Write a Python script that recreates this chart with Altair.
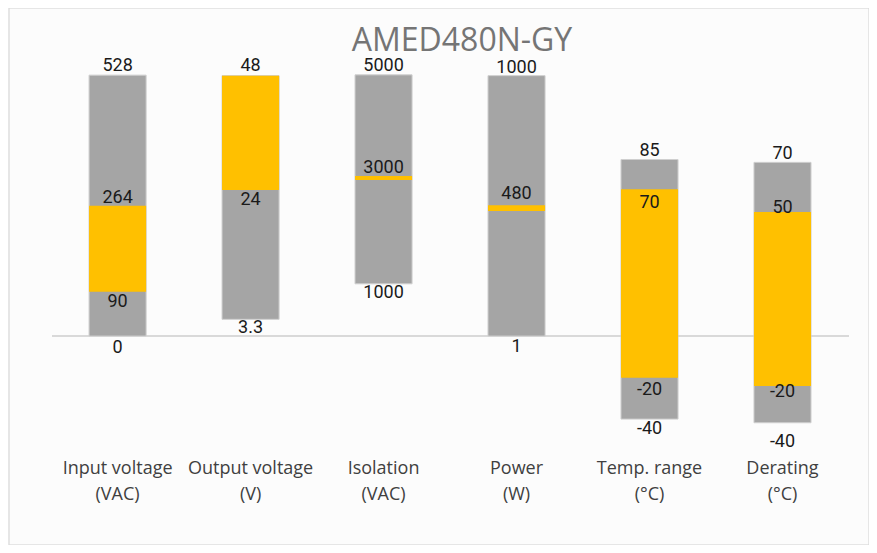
import altair as alt
import pandas as pd

# Categories (two-line axis labels)
cat_names = ["Input voltage", "Output voltage", "Isolation", "Power", "Temp. range", "Derating"]
cat_units = ["(VAC)", "(V)", "(VAC)", "(W)", "(°C)", "(°C)"]

# Plotted (normalised) extents of each bar, 100 = full-height bar
gray_lo = [0, 6.4, 20.0, 0, -31.8, -33.2]
gray_hi = [99.9, 99.7, 100.0, 99.7, 67.6, 66.5]
gold_lo = [17.0, 55.9, 59.7, 47.9, -16.0, -19.1]
gold_hi = [49.9, 99.7, 61.3, 50.1, 56.2, 47.5]

# Value labels: category index, text, normalised position of the label
label_cat = [0, 0, 0, 0, 1, 1, 1, 2, 2, 2, 3, 3, 3, 4, 4, 4, 4, 5, 5, 5, 5]
label_text = ["528", "264", "90", "0", "48", "24", "3.3", "5000", "3000", "1000",
              "1000", "480", "1", "85", "70", "-20", "-40", "70", "50", "-20", "-40"]
label_pos = [103.3, 52.8, 13.1, -4.6, 103.3, 52.1, 3.1, 103.3, 64.3, 16.5,
             102.8, 54.4, -4.2, 70.9, 51.0, -20.7, -35.6, 69.7, 49.0, -21.4, -40.5]

cats = [n + "\n" + u for n, u in zip(cat_names, cat_units)]

bars = pd.DataFrame({"cat": cats, "glo": gray_lo, "ghi": gray_hi, "ylo": gold_lo, "yhi": gold_hi})
labels = pd.DataFrame({"cat": [cats[i] for i in label_cat], "text": label_text, "pos": label_pos})
zero = pd.DataFrame({"y": [0]})

yscale = alt.Scale(domain=[-80, 125.6], nice=False, zero=False)
xscale = alt.Scale(paddingInner=0.571, paddingOuter=0.519, align=0.58)

x_enc = alt.X(
    "cat:N", sort=cats, scale=xscale,
    axis=alt.Axis(
        title=None, orient="bottom", offset=-88, domain=False, ticks=False, grid=False,
        labelAngle=0, labelExpr="split(datum.label, '\\n')", labelFont="Open Sans",
        labelFontSize=18, labelColor="#404040", labelLineHeight=26, labelPadding=2,
        labelBaseline="top", labelOverlap=False, labelLimit=300,
    ),
)

base = alt.Chart(bars)

gray = base.mark_bar(color="#a5a5a5", stroke="#cfcfcf", strokeWidth=1).encode(
    x=x_enc,
    y=alt.Y("glo:Q", scale=yscale, axis=None),
    y2="ghi:Q",
)
gold = base.mark_bar(color="#ffc000").encode(
    x=alt.X("cat:N", sort=cats),
    y=alt.Y("ylo:Q", scale=yscale, axis=None),
    y2="yhi:Q",
)
rule = alt.Chart(zero).mark_rule(color="#d9d9d9", strokeWidth=2).encode(
    y=alt.Y("y:Q", scale=yscale, axis=None),
    x=alt.value(43),
    x2=alt.value(840),
)
text = alt.Chart(labels).mark_text(
    font="Roboto", fontSize=18, color="#1a1a1a", baseline="middle", align="center"
).encode(
    x=alt.X("cat:N", sort=cats),
    y=alt.Y("pos:Q", scale=yscale, axis=None),
    text="text:N",
)

chart = alt.layer(rule, gray, gold, text).properties(
    width=860,
    height=537,
    padding={"left": 1, "top": 0, "right": 0, "bottom": 0},
    title=alt.TitleParams(
        "AMED480N-GY", font="Open Sans", fontSize=32, fontWeight="normal",
        color="#757575", anchor="middle", offset=-75, dx=23, baseline="alphabetic",
    ),
).configure(background="#ffffff").configure_view(
    fill="#fcfcfc", stroke="#dedede", strokeWidth=1.5
)

chart.save("out.html", embed_options={"renderer": "svg", "actions": False})
